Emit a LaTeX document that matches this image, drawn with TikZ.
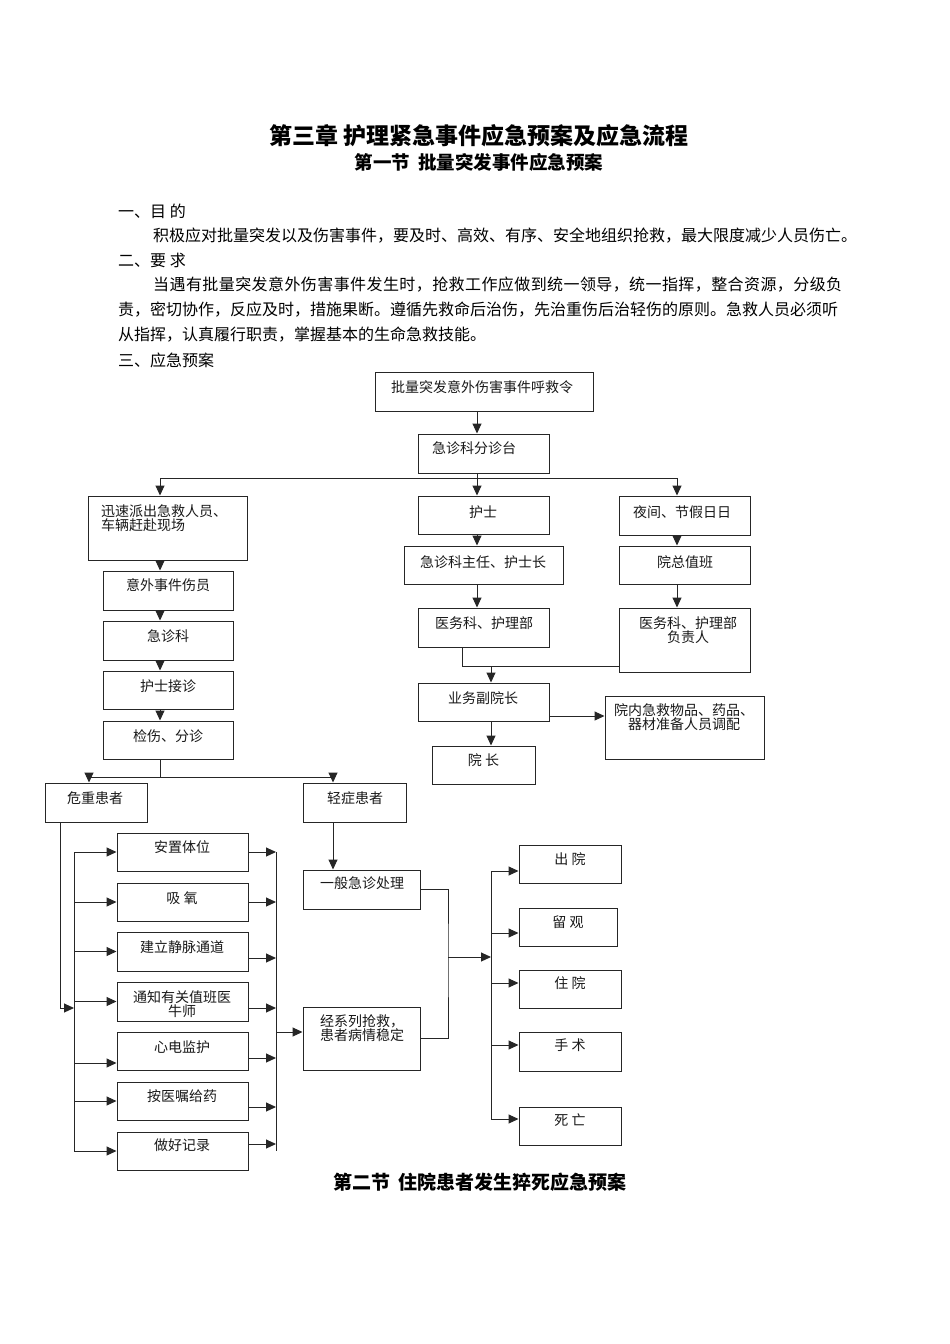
\documentclass[tikz,border=0pt]{standalone}
\usepackage{fontspec}
\newfontfamily\cjk{Noto Sans CJK SC}
\newfontfamily\cjkwide{Noto Sans CJK SC}[LetterSpace=2.6]
\usetikzlibrary{arrows.meta}

\tikzset{
  box/.style={draw=black!85, line width=1pt, rectangle, inner sep=0pt, minimum width=131, minimum height=39},
  txt/.style={inner sep=0pt, text=black!90, font=\cjk\fontsize{14}{14}\selectfont},
  body/.style={inner sep=0pt, anchor=west, font=\cjk\fontsize{16}{16}\selectfont},
  line/.style={draw=black!85, line width=1pt},
  arr/.style={line, -{Triangle[length=10pt,width=9pt]}}
}

\begin{document}
\begin{tikzpicture}[x=1pt, y=-1pt]
        \useasboundingbox[fill=white] (0,0) rectangle (950,1344);

        % titles and text
        \node[inner sep=0pt, font=\cjk\bfseries\fontsize{23}{23}\selectfont] (title) at (479,136) {第三章 护理紧急事件应急预案及应急流程};
        \node[inner sep=0pt, font=\cjk\bfseries\fontsize{18.5}{18.5}\selectfont] (sec1) at (479,162) {第一节\ \ 批量突发事件应急预案};
        \node[body] (h1) at (118,211) {一、目\ 的};
        \node[body] (p1) at (153,236) {积极应对批量突发以及伤害事件，要及时、高效、有序、安全地组织抢救，最大限度减少人员伤亡。};
        \node[body] (h2) at (118,260) {二、要\ 求};
        \node[body, font=\cjkwide\fontsize{16}{16}\selectfont] (p2a) at (153,285) {当遇有批量突发意外伤害事件发生时，抢救工作应做到统一领导，统一指挥，整合资源，分级负};
        \node[body] (p2b) at (118,310) {责，密切协作，反应及时，措施果断。遵循先救命后治伤，先治重伤后治轻伤的原则。急救人员必须听};
        \node[body] (p2c) at (118,335) {从指挥，认真履行职责，掌握基本的生命急救技能。};
        \node[body] (h3) at (118,360) {三、应急预案};
        \node[inner sep=0pt, font=\cjk\bfseries\fontsize{19}{19}\selectfont] (sec2) at (480,1182) {第二节\ \ 住院患者发生猝死应急预案};

        % command chain
        \node[box, minimum width=218] (call) at (484,391.5) {};
        \node[txt] (call-t) at (482,387) {批量突发意外伤害事件呼救令};
        \node[box] (triage) at (483.5,453.5) {};
        \node[txt] (triage-t) at (474,448) {急诊科分诊台};
        \node[box, minimum width=159, minimum height=64] (dispatch) at (167.5,528) {};
        \node[txt, anchor=west, align=left] (dispatch-t) at (101,518.5) {迅速派出急救人员、\\车辆赶赴现场};
        \node[box, minimum height=38] (nurse) at (483.5,515) {};
        \node[txt] (nurse-t) at (483,512) {护士};
        \node[box] (night) at (684.5,515.5) {};
        \node[txt] (night-t) at (682,512) {夜间、节假日日};
        \node[box, minimum width=159, minimum height=38] (director) at (483.5,565) {};
        \node[txt] (director-t) at (483,562) {急诊科主任、护士长};
        \node[box, minimum height=38] (duty) at (684.5,565) {};
        \node[txt] (duty-t) at (685,562) {院总值班};
        \node[box] (medical) at (483.5,627.5) {};
        \node[txt] (medical-t) at (484,623) {医务科、护理部};
        \node[box, minimum height=64] (medheads) at (684.5,640) {};
        \node[txt, align=center] (medheads-t) at (688,630) {医务科、护理部\\负责人};
        \node[box, minimum height=38] (vice) at (483.5,702) {};
        \node[txt] (vice-t) at (483,698) {业务副院长};
        \node[box, minimum width=159, minimum height=63] (supplies) at (684.5,727.5) {};
        \node[txt, align=center] (supplies-t) at (684,717.5) {院内急救物品、药品、\\器材准备人员调配};
        \node[box, minimum width=103, minimum height=38] (president) at (483.5,765) {};
        \node[txt] (president-t) at (483.5,760) {院\ 长};

        % on site
        \node[box, minimum width=130] (victims) at (168,590.5) {};
        \node[txt] (victims-t) at (168,585) {意外事件伤员};
        \node[box, minimum width=130] (er) at (168,640.5) {};
        \node[txt] (er-t) at (168,636) {急诊科};
        \node[box, minimum width=130, minimum height=38] (receive) at (168,690) {};
        \node[txt] (receive-t) at (168,686) {护士接诊};
        \node[box, minimum width=130, minimum height=38] (sort) at (168,740) {};
        \node[txt] (sort-t) at (168,736) {检伤、分诊};
        \node[box, minimum width=102] (critical) at (96,802.5) {};
        \node[txt] (critical-t) at (95,798) {危重患者};
        \node[box, minimum width=103] (mild) at (354.5,802.5) {};
        \node[txt] (mild-t) at (355,798) {轻症患者};

        % measures for critical patients
        \node[box, minimum height=38] (pos) at (182.5,852) {};
        \node[txt] (pos-t) at (182,847) {安置体位};
        \node[box, minimum height=38] (oxy) at (182.5,902) {};
        \node[txt] (oxy-t) at (182,898) {吸\ 氧};
        \node[box] (iv) at (182.5,951.5) {};
        \node[txt] (iv-t) at (182,947) {建立静脉通道};
        \node[box] (notify) at (182.5,1001.5) {};
        \node[txt, align=center] (notify-t) at (182,1004) {通知有关值班医\\牛师};
        \node[box, minimum height=38] (ecg) at (182.5,1051) {};
        \node[txt] (ecg-t) at (182,1047) {心电监护};
        \node[box, minimum height=38] (med) at (182.5,1101) {};
        \node[txt] (med-t) at (182,1096) {按医嘱给药};
        \node[box, minimum height=38] (record) at (182.5,1151) {};
        \node[txt] (record-t) at (182,1145) {做好记录};

        \node[box, minimum width=117] (general) at (361.5,889.5) {};
        \node[txt] (general-t) at (362,883) {一般急诊处理};
        \node[box, minimum width=117, minimum height=63] (rescue) at (361.5,1038.5) {};
        \node[txt, anchor=west, align=left] (rescue-t) at (320,1028.5) {经系列抢救，\\患者病情稳定};

        % outcomes
        \node[box, minimum width=102, minimum height=38] (discharge) at (570,864) {};
        \node[txt] (discharge-t) at (570,859) {出\ 院};
        \node[box, minimum width=98, minimum height=38] (observe) at (568,927) {};
        \node[txt] (observe-t) at (568,922) {留\ 观};
        \node[box, minimum width=102, minimum height=38] (admit) at (570,989) {};
        \node[txt] (admit-t) at (570,983) {住\ 院};
        \node[box, minimum width=102] (surgery) at (570,1051.5) {};
        \node[txt] (surgery-t) at (570,1045) {手\ 术};
        \node[box, minimum width=102, minimum height=38] (death) at (570,1126) {};
        \node[txt] (death-t) at (570,1120) {死\ 亡};

        % junction points
        \coordinate (split) at (477,478);
        \coordinate (splitL) at (160,478);
        \coordinate (splitR) at (677,478);
        \coordinate (mergeL) at (462,666);
        \coordinate (merge) at (491,666);
        \coordinate (fork) at (160,777);
        \coordinate (forkL) at (89,777);
        \coordinate (forkR) at (333,777);
        \coordinate (crit) at (60,1008);
        \coordinate (busL) at (74,852);
        \coordinate (busLb) at (74,1151);
        \coordinate (busR) at (276,852);
        \coordinate (busRb) at (276,1151);
        \coordinate (busRmid) at (276,1032);
        \coordinate (join) at (448,957);
        \coordinate (busO) at (491,871);
        \coordinate (busOb) at (491,1119);

        % command chain connectors
        \draw[arr] (call.south -| split) -- (triage.north -| split);
        \draw[arr] (triage.south -| split) -- (nurse.north -| split);
        \draw[line] (splitL) -- (splitR);
        \draw[arr] (splitL) -- (dispatch.north -| splitL);
        \draw[arr] (splitR) -- (night.north -| splitR);
        \draw[arr] (nurse.south -| split) -- (director.north -| split);
        \draw[arr] (director.south -| split) -- (medical.north -| split);
        \draw[arr] (night.south -| splitR) -- (duty.north -| splitR);
        \draw[arr] (duty.south -| splitR) -- (medheads.north -| splitR);
        \draw[line] (medical.south -| mergeL) -- (mergeL) -- (mergeL -| medheads.west);
        \draw[arr] (merge) -- (vice.north -| merge);
        \draw[arr] ([yshift=-14pt]vice.east) -- ([yshift=-14pt]vice.east -| supplies.west);
        \draw[arr] (vice.south -| merge) -- (president.north -| merge);

        % on site connectors
        \draw[arr] (dispatch.south -| splitL) -- (victims.north -| splitL);
        \draw[arr] (victims.south -| fork) -- (er.north -| fork);
        \draw[arr] (er.south -| fork) -- (receive.north -| fork);
        \draw[arr] (receive.south -| fork) -- (sort.north -| fork);
        \draw[line] (sort.south -| fork) -- (fork);
        \draw[line] (forkL) -- (forkR);
        \draw[arr] (forkL) -- (critical.north -| forkL);
        \draw[arr] (forkR) -- (mild.north -| forkR);

        % critical patients
        \draw[arr] (critical.south -| crit) -- (crit) -- (crit -| busL);
        \draw[line] (busL) -- (busLb);
        \draw[arr] (busL |- pos.west) -- (pos.west);
        \draw[arr] (busL |- oxy.west) -- (oxy.west);
        \draw[arr] (busL |- iv.west) -- (iv.west);
        \draw[arr] (busL |- notify.west) -- (notify.west);
        \draw[arr] ([yshift=-12pt]busL |- ecg.west) -- ([yshift=-12pt]ecg.west);
        \draw[arr] (busL |- med.west) -- (med.west);
        \draw[arr] (busL |- record.west) -- (record.west);

        \draw[line] (busR) -- (busRb);
        \draw[arr] (pos.east) -- (pos.east -| busR);
        \draw[arr] (oxy.east) -- (oxy.east -| busR);
        \draw[arr] ([yshift=-6.5pt]iv.east) -- ([yshift=-6.5pt]iv.east -| busR);
        \draw[arr] ([yshift=-6.5pt]notify.east) -- ([yshift=-6.5pt]notify.east -| busR);
        \draw[arr] ([yshift=-7pt]ecg.east) -- ([yshift=-7pt]ecg.east -| busR);
        \draw[arr] ([yshift=-6pt]med.east) -- ([yshift=-6pt]med.east -| busR);
        \draw[arr] ([yshift=7pt]record.east) -- ([yshift=7pt]record.east -| busR);
        \draw[arr] (busRmid) -- (busRmid -| rescue.west);

        % mild patients and outcomes
        \draw[arr] (mild.south -| forkR) -- (general.north -| forkR);
        \draw[line] (general.east) -| (join) |- (rescue.east);
        \draw[arr] (join) -- (join -| busO);
        \draw[line] (busO) -- (busOb);
        \draw[arr] ([yshift=-7pt]busO |- discharge.west) -- ([yshift=-7pt]discharge.west);
        \draw[arr] ([yshift=-6pt]busO |- observe.west) -- ([yshift=-6pt]observe.west);
        \draw[arr] ([yshift=6pt]busO |- admit.west) -- ([yshift=6pt]admit.west);
        \draw[arr] ([yshift=6.5pt]busO |- surgery.west) -- ([yshift=6.5pt]surgery.west);
        \draw[arr] ([yshift=7pt]busO |- death.west) -- ([yshift=7pt]death.west);
    \end{tikzpicture}
\end{document}
